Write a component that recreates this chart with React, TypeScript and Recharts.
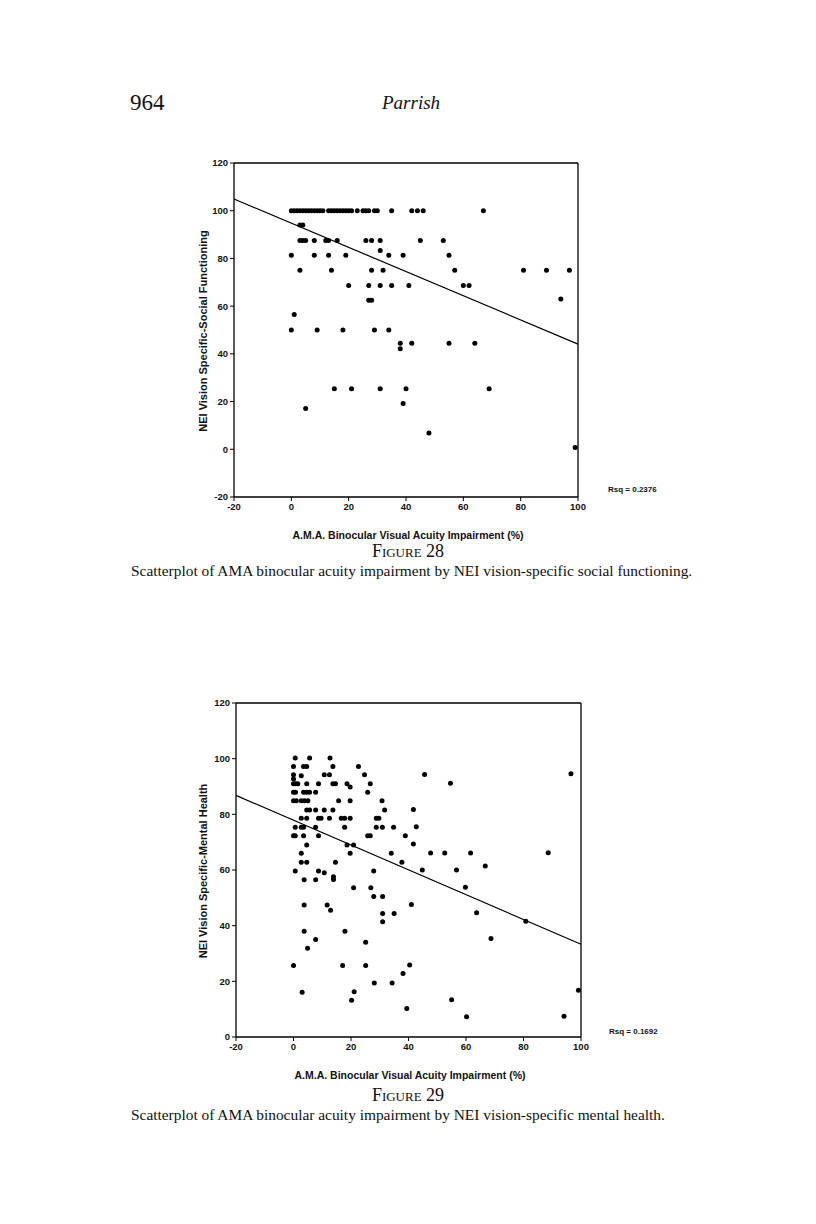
import React from 'react';
import { ScatterChart, Scatter, XAxis, YAxis, ReferenceLine } from 'recharts';

// Figure 28: impairment (%) vs NEI social functioning
const socialImpairment = [
  0, 1, 2, 3, 4, 5, 6, 7, 8, 9, 10, 11, 13, 14, 15, 16, 17, 18, 19, 20, 21, 23, 25, 26, 27, 29, 30, 35, 42, 44, 46, 67,
  3, 4,
  3, 4, 5, 8, 12, 13, 16, 26, 28, 31, 45, 53,
  31,
  0, 8, 13, 19, 34, 39, 55,
  3, 14, 28, 32, 57, 81, 89, 97,
  20, 27, 31, 35, 41, 60, 62,
  27, 28, 94,
  1,
  0, 9, 18, 29, 34,
  38, 42, 55, 64, 38,
  15, 21, 31, 40, 69,
  39, 5, 48, 99,
];
const socialScore = [
  100, 100, 100, 100, 100, 100, 100, 100, 100, 100, 100, 100, 100, 100, 100, 100, 100, 100, 100, 100, 100, 100, 100, 100, 100, 100, 100, 100, 100, 100, 100, 100,
  94, 94,
  87.5, 87.5, 87.5, 87.5, 87.5, 87.5, 87.5, 87.5, 87.5, 87.5, 87.5, 87.5,
  83.3,
  81.3, 81.3, 81.3, 81.3, 81.3, 81.3, 81.3,
  75, 75, 75, 75, 75, 75, 75, 75,
  68.7, 68.7, 68.7, 68.7, 68.7, 68.7, 68.7,
  62.5, 62.5, 63,
  56.5,
  50, 50, 50, 50, 50,
  44.4, 44.4, 44.4, 44.4, 42.1,
  25.4, 25.4, 25.4, 25.4, 25.4,
  19.2, 17.1, 6.8, 0.7,
];
const socialFit = [{ x: -20, y: 104.9 }, { x: 100, y: 44.1 }];

// Figure 29: impairment (%) vs NEI mental health
const mentalImpairment = [
  0.6, 5.6, 12.7,
  0, 3.5, 4.6, 13.7, 22.6,
  0, 0, 2.7, 10.7, 12.5, 24.7, 45.6, 96.5,
  0, 0.7, 1.5, 4.6, 8.7, 13.7, 14.6, 18.6, 26.7, 54.6,
  19.7,
  0, 0.7, 3.5, 4.6, 5.6, 7.7, 25.8,
  0, 1, 2.7, 3.8, 5, 15.7, 19.7, 30.8,
  4.6, 5.6, 7.7, 10.7, 13.7, 31.7, 41.7,
  2.7, 4.6, 8.7, 9.6, 12.5, 16.6, 17.8, 19.7, 28.8, 29.7,
  0.6, 2.7, 3.5, 7.7, 17.8, 28.8, 30.9, 34.8, 42.7,
  0, 0.6, 3.5, 8.7, 25.8, 26.7, 38.9,
  4.6, 18.6, 20.9, 41.7,
  2.7, 19.7, 34, 47.7, 52.6, 61.6, 88.6,
  2.7, 4.6, 14.6, 37.7, 66.7,
  0.6, 8.7, 10.7, 27.9, 44.8, 56.7,
  13.9, 13.9, 3.7, 7.7,
  20.9, 26.9, 59.8,
  27.9, 31,
  3.7, 11.7, 41, 12.9, 31, 35, 63.7, 31, 80.8,
  3.7, 17.9, 7.7, 68.7, 25.1, 4.9,
  0, 17.1, 25.1, 40.4, 38.1,
  28.1, 34.3, 99.1,
  3, 21.1, 20.2, 55, 39.4, 60.2, 94.1,
];
const mentalScore = [
  100.2, 100.2, 100.2,
  97.2, 97.2, 97.2, 97.2, 97.2,
  94.2, 92.7, 93.9, 94.2, 94.2, 94.2, 94.3, 94.6,
  91, 91, 91, 91, 91, 91, 91, 91, 91, 91.2,
  89.8,
  87.9, 87.9, 87.9, 87.9, 87.9, 87.9, 87.9,
  84.9, 84.9, 84.9, 84.9, 84.9, 84.9, 84.9, 84.9,
  81.6, 81.6, 81.6, 81.6, 81.6, 81.6, 81.7,
  78.6, 78.6, 78.6, 78.6, 78.6, 78.6, 78.6, 78.6, 78.6, 78.6,
  75.4, 75.4, 75.4, 75.4, 75.4, 75.4, 75.4, 75.4, 75.5,
  72.3, 72.3, 72.3, 72.3, 72.3, 72.3, 72.3,
  69, 69, 69, 69.3,
  66, 66, 66, 66.1, 66.1, 66.1, 66.2,
  62.8, 62.8, 62.8, 62.8, 61.4,
  59.6, 59.6, 59, 59.6, 60, 60,
  57.6, 56.6, 56.5, 56.5,
  53.6, 53.6, 53.8,
  50.5, 50.5,
  47.4, 47.4, 47.6, 45.5, 44.4, 44.4, 44.6, 41.4, 41.6,
  38, 38, 35, 35.4, 34, 31.9,
  25.7, 25.7, 25.7, 25.9, 22.8,
  19.4, 19.4, 16.8,
  16.1, 16.3, 13.2, 13.4, 10.2, 7.3, 7.5,
];
const mentalFit = [{ x: -20, y: 86.8 }, { x: 100, y: 33.3 }];

const xTicks = [-20, 0, 20, 40, 60, 80, 100];
const socialTicks = [-20, 0, 20, 40, 60, 80, 100, 120];
const mentalTicks = [0, 20, 40, 60, 80, 100, 120];

const socialData = socialImpairment.map((x, i) => ({ x, y: socialScore[i] }));
const mentalData = mentalImpairment.map((x, i) => ({ x, y: mentalScore[i] }));

const sans = 'Liberation Sans, Arial, sans-serif';
const serif = 'Liberation Serif, Times New Roman, serif';
const tickStyle = { fill: '#111', fontSize: 9.5, fontWeight: 700, fontFamily: sans };

const Dot = (props: any) => <circle cx={props.cx} cy={props.cy} r={2.5} fill="#000" />;

interface PlotProps {
  data: { x: number; y: number }[];
  fit: { x: number; y: number }[];
  yTicks: number[];
  yDomain: [number, number];
  yWidth: number;
  marginRight: number;
}

const Plot: React.FC<PlotProps> = ({ data, fit, yTicks, yDomain, yWidth, marginRight }) => (
  <ScatterChart width={480} height={380} margin={{ top: 13, right: marginRight, left: 0, bottom: 3 }}>
    <XAxis
      type="number" dataKey="x" domain={[-20, 100]} ticks={xTicks} interval={0}
      tick={tickStyle} tickSize={4} tickMargin={2} height={30}
      axisLine={{ stroke: '#000', strokeWidth: 1.3 }} tickLine={{ stroke: '#000' }}
    />
    <YAxis
      type="number" dataKey="y" domain={yDomain} ticks={yTicks} interval={0}
      tick={tickStyle} tickSize={4} tickMargin={2} width={yWidth}
      axisLine={{ stroke: '#000', strokeWidth: 1.3 }} tickLine={{ stroke: '#000' }}
    />
    <ReferenceLine y={yDomain[1]} stroke="#000" strokeWidth={1.3} />
    <ReferenceLine x={100} stroke="#000" strokeWidth={1.3} />
    <ReferenceLine segment={fit} stroke="#000" strokeWidth={1.2} />
    <Scatter data={data} shape={Dot} isAnimationActive={false} />
  </ScatterChart>
);

const abs = (style: React.CSSProperties): React.CSSProperties => ({ position: 'absolute', whiteSpace: 'nowrap', color: '#111', ...style });

export default function App() {
  return (
    <div style={{ position: 'absolute', left: 0, top: 0, width: 816, height: 1224, background: '#fff' }}>
      <div style={abs({ left: 130, top: 89, fontFamily: serif, fontSize: 23, lineHeight: '28px' })}>964</div>
      <div style={abs({ left: 382, top: 90, fontFamily: serif, fontSize: 19, lineHeight: '26px', fontStyle: 'italic' })}>Parrish</div>

      {/* Figure 28 */}
      <div style={{ position: 'absolute', left: 180, top: 150 }}>
        <Plot data={socialData} fit={socialFit} yTicks={socialTicks} yDomain={[-20, 120]} yWidth={54} marginRight={82} />
      </div>
      <div style={abs({ left: 203, top: 331, transform: 'translate(-50%, -50%) rotate(-90deg)', fontFamily: sans, fontSize: 11, fontWeight: 700 })}>
        NEI Vision Specific-Social Functioning
      </div>
      <div style={abs({ left: 608, top: 485, fontFamily: sans, fontSize: 8, fontWeight: 700 })}>Rsq = 0.2376</div>
      <div style={abs({ left: 408, top: 535, transform: 'translate(-50%, -50%)', fontFamily: sans, fontSize: 10.5, fontWeight: 700 })}>
        A.M.A. Binocular Visual Acuity Impairment (%)
      </div>
      <div style={abs({ left: 408, top: 551, transform: 'translate(-50%, -50%)', fontFamily: serif, fontSize: 18, fontVariant: 'small-caps' })}>
        Figure 28
      </div>
      <div style={abs({ left: 131, top: 561, fontFamily: serif, fontSize: 15.4, lineHeight: '20px' })}>
        Scatterplot of AMA binocular acuity impairment by NEI vision-specific social functioning.
      </div>

      {/* Figure 29 */}
      <div style={{ position: 'absolute', left: 180, top: 690 }}>
        <Plot data={mentalData} fit={mentalFit} yTicks={mentalTicks} yDomain={[0, 120]} yWidth={56} marginRight={79} />
      </div>
      <div style={abs({ left: 203, top: 871, transform: 'translate(-50%, -50%) rotate(-90deg)', fontFamily: sans, fontSize: 11, fontWeight: 700 })}>
        NEI Vision Specific-Mental Health
      </div>
      <div style={abs({ left: 609, top: 1027, fontFamily: sans, fontSize: 8, fontWeight: 700 })}>Rsq = 0.1692</div>
      <div style={abs({ left: 410, top: 1075, transform: 'translate(-50%, -50%)', fontFamily: sans, fontSize: 10.5, fontWeight: 700 })}>
        A.M.A. Binocular Visual Acuity Impairment (%)
      </div>
      <div style={abs({ left: 408, top: 1095, transform: 'translate(-50%, -50%)', fontFamily: serif, fontSize: 18, fontVariant: 'small-caps' })}>
        Figure 29
      </div>
      <div style={abs({ left: 131, top: 1105, fontFamily: serif, fontSize: 15.4, lineHeight: '20px' })}>
        Scatterplot of AMA binocular acuity impairment by NEI vision-specific mental health.
      </div>
    </div>
  );
}
